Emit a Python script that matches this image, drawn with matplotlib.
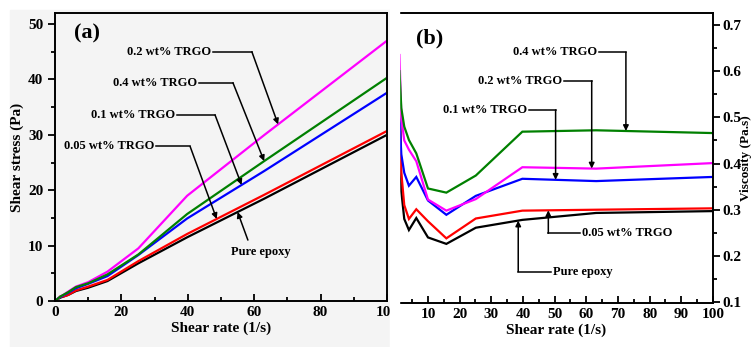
import numpy as np
import matplotlib
matplotlib.use("Agg")
import matplotlib.pyplot as plt
from matplotlib.patches import Rectangle
from matplotlib.ticker import MultipleLocator

plt.rcParams['font.family'] = ['Liberation Serif', 'DejaVu Serif']
plt.rcParams['font.weight'] = 'bold'
plt.rcParams['axes.labelweight'] = 'bold'

# ---------------- data ----------------
rate_a = [0, 1.0, 1.58, 2.51, 3.98, 6.31, 10.0, 15.8, 25.1, 39.8, 63.1, 100.0]
stress_pure = [0, 0.4, 0.6, 0.8, 1.1, 1.8, 2.4, 3.6, 6.8, 11.5, 18.5, 30.0]
stress_005 = [0, 0.4, 0.8, 0.8, 1.1, 1.9, 2.6, 3.8, 7.2, 12.1, 19.2, 30.7]
stress_01 = [0, 0.5, 0.7, 1.0, 1.5, 2.3, 3.1, 4.5, 8.3, 14.9, 23.5, 37.6]
stress_02 = [0, 0.5, 0.8, 1.1, 1.7, 2.6, 3.4, 5.3, 9.5, 19.0, 30.0, 47.0]
stress_04 = [0, 0.5, 0.8, 1.1, 1.6, 2.5, 3.2, 4.8, 8.4, 15.7, 25.3, 40.3]

rate_b = [1.0, 1.58, 2.51, 3.98, 6.31, 10.0, 15.8, 25.1, 39.8, 63.1, 100.0]
visc_pure = [0.60, 0.34, 0.28, 0.256, 0.282, 0.240, 0.226, 0.261, 0.278, 0.293, 0.297]
visc_005 = [0.53, 0.38, 0.31, 0.280, 0.301, 0.275, 0.238, 0.281, 0.298, 0.300, 0.303]
visc_01 = [0.50, 0.42, 0.38, 0.352, 0.371, 0.320, 0.289, 0.330, 0.367, 0.362, 0.371]
visc_02 = [0.635, 0.50, 0.45, 0.430, 0.405, 0.322, 0.298, 0.323, 0.392, 0.389, 0.401]
visc_04 = [0.60, 0.52, 0.48, 0.451, 0.422, 0.346, 0.337, 0.374, 0.469, 0.472, 0.466]

labels = ['Pure epoxy', '0.05 wt% TRGO', '0.1 wt% TRGO', '0.2 wt% TRGO', '0.4 wt% TRGO']
colors = ['black', '#ff0000', '#0000ff', '#ff00ff', '#008000']

xticks_a = [0, 20, 40, 60, 80, 100]
yticks_a = [0, 10, 20, 30, 40, 50]
xticks_b = [10, 20, 30, 40, 50, 60, 70, 80, 90, 100]
yticks_b = [0.1, 0.2, 0.3, 0.4, 0.5, 0.6, 0.7]

W, H = 753, 347
fig = plt.figure(figsize=(W / 100, H / 100), dpi=100, facecolor='white')

# light grey background behind panel (a)
fig.patches.append(Rectangle((10 / W, 0), (390 - 10) / W, (H - 10) / H,
                             transform=fig.transFigure, color='#f4f4f4', zorder=-10))

ax1 = fig.add_axes([55 / W, (H - 301) / H, 332 / W, 288 / H])
ax2 = fig.add_axes([399 / W, (H - 303) / H, 314 / W, 290 / H])
ax1.set_facecolor('none')
ax2.set_facecolor('white')
ax2.set_zorder(2)

# white strip that clips the right tick label of panel (a)
fig.patches.append(Rectangle((390 / W, 0), 8.5 / W, 1, transform=fig.transFigure,
                             color='white', zorder=5))

series_a = [stress_pure, stress_005, stress_01, stress_02, stress_04]
series_b = [visc_pure, visc_005, visc_01, visc_02, visc_04]
for s, c in zip(series_a, colors):
    ax1.plot(rate_a, s, color=c, lw=1.6, solid_joinstyle='miter')
for s, c in zip(series_b, colors):
    ax2.plot(rate_b, s, color=c, lw=1.6, solid_joinstyle='miter')

# ---------------- panel (a) axes ----------------
ax1.set_xlim(0, 100)
ax1.set_ylim(0, 52)
ax1.set_xticks(xticks_a)
ax1.set_yticks(yticks_a)
ax1.xaxis.set_minor_locator(MultipleLocator(10))
ax1.yaxis.set_minor_locator(MultipleLocator(5))
ax1.tick_params(axis='x', which='both', direction='in', labelsize=11, width=1.3)
ax1.tick_params(axis='y', which='both', direction='out', labelsize=11, width=1.3)
ax1.tick_params(which='major', length=5)
ax1.tick_params(which='minor', length=3)
ax1.set_xlabel('Shear rate (1/s)', fontsize=11, labelpad=2)
ax1.set_ylabel('Shear stress (Pa)', fontsize=11, labelpad=3)
for sp in ax1.spines.values():
    sp.set_linewidth(1.4)
ax1.text(0.096, 0.93, '(a)', transform=ax1.transAxes, fontsize=16,
         ha='center', va='center')

# ---------------- panel (b) axes ----------------
ax2.set_xlim(0.85, 100)
ax2.set_ylim(0.098, 0.726)
ax2.set_xticks(xticks_b)
ax2.set_yticks(yticks_b)
ax2.xaxis.set_minor_locator(MultipleLocator(5))
ax2.yaxis.set_minor_locator(MultipleLocator(0.05))
ax2.yaxis.tick_right()
ax2.yaxis.set_label_position('right')
ax2.tick_params(axis='x', which='both', direction='in', labelsize=11, width=1.3)
ax2.tick_params(axis='y', which='both', direction='out', labelsize=11, width=1.3,
                left=False, right=True, pad=1.5)
ax2.tick_params(which='major', length=5)
ax2.tick_params(which='minor', length=3)
ax2.set_xlabel('Shear rate (1/s)', fontsize=11, labelpad=2)
ax2.set_ylabel('Viscosity (Pa.s)', fontsize=9.5, rotation=90, va='center', ha='center')
ax2.yaxis.set_label_coords((746 - 399) / 314, 0.5)
for sp in ax2.spines.values():
    sp.set_linewidth(1.4)
ax2.text(0.099, 0.913, '(b)', transform=ax2.transAxes, fontsize=16,
         ha='center', va='center')

arrow_kw = dict(arrowstyle='-|>', color='black', lw=1.1, mutation_scale=8,
                shrinkA=0, shrinkB=0)


def callout(ax, text, text_xy, bend_xy, tip_x, xs, ys, ha):
    tip = (tip_x, float(np.interp(tip_x, xs, ys)))
    ax.annotate(text, xy=text_xy, ha=ha, va='center', fontsize=9)
    ax.plot([text_xy[0] + (0.6 if ha == 'right' else -0.6), bend_xy[0]],
            [text_xy[1], bend_xy[1]], color='black', lw=1.1)
    ax.annotate('', xy=tip, xytext=bend_xy, arrowprops=arrow_kw)


# panel (a) callouts
callout(ax1, '0.2 wt% TRGO', (47.0, 45.0), (59.3, 45.0), 67.2, rate_a, stress_02, 'right')
callout(ax1, '0.4 wt% TRGO', (42.8, 39.4), (53.6, 39.4), 63.0, rate_a, stress_04, 'right')
callout(ax1, '0.1 wt% TRGO', (36.1, 33.6), (48.2, 33.6), 56.2, rate_a, stress_01, 'right')
callout(ax1, '0.05 wt% TRGO', (29.8, 27.9), (40.7, 27.9), 48.7, rate_a, stress_005, 'right')
ax1.annotate('Pure epoxy', xy=(62.0, 8.9), ha='center', va='center', fontsize=9)
ax1.annotate('', xy=(55.0, float(np.interp(55.0, rate_a, stress_pure))),
             xytext=(58.1, 11.0), arrowprops=arrow_kw)

# panel (b) callouts
callout(ax2, '0.4 wt% TRGO', (63.3, 0.641), (72.5, 0.641), 72.5, rate_b, visc_04, 'right')
callout(ax2, '0.2 wt% TRGO', (52.5, 0.579), (61.7, 0.579), 61.7, rate_b, visc_02, 'right')
callout(ax2, '0.1 wt% TRGO', (41.2, 0.516), (50.3, 0.516), 50.3, rate_b, visc_01, 'right')
callout(ax2, '0.05 wt% TRGO', (58.5, 0.249), (48.0, 0.249), 48.0, rate_b, visc_005, 'left')
callout(ax2, 'Pure epoxy', (49.6, 0.166), (38.5, 0.166), 38.5, rate_b, visc_pure, 'left')

fig.savefig('out.png', dpi=100, facecolor=fig.get_facecolor())
